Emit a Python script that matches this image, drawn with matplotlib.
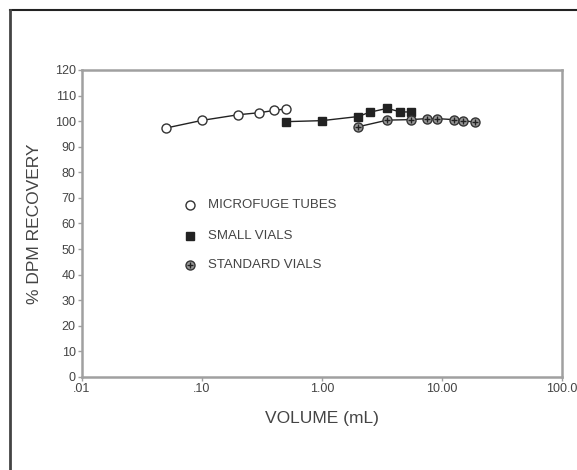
import matplotlib.pyplot as plt
from matplotlib.lines import Line2D

# volumes (mL) and % DPM recovery for each vial type
micro_vol = [0.05, 0.1, 0.2, 0.3, 0.4, 0.5]
micro_rec = [97.3, 100.3, 102.5, 103.3, 104.2, 104.8]

small_vol = [0.5, 1.0, 2.0, 2.5, 3.5, 4.5, 5.5]
small_rec = [99.8, 100.2, 101.8, 103.5, 105.0, 103.6, 103.6]

std_vol = [2.0, 3.5, 5.5, 7.5, 9.0, 12.5, 15.0, 19.0]
std_rec = [97.8, 100.4, 100.6, 101.0, 101.0, 100.6, 100.2, 99.6]

x_ticks = [0.01, 0.1, 1.0, 10.0, 100.0]
x_labels = ['.01', '.10', '1.00', '10.00', '100.0']
y_ticks = list(range(0, 121, 10))

key_labels = ['MICROFUGE TUBES', 'SMALL VIALS', 'STANDARD VIALS']

plt.rcParams['font.family'] = ['Liberation Sans', 'DejaVu Sans']

fig = plt.figure(figsize=(5.77, 4.70), dpi=100)
ax = fig.add_axes([0.1421, 0.1979, 0.8319, 0.6532])

line_col = '#222222'
micro_style = dict(marker='o', ms=6.5, mfc='white', mec='#333333', mew=1.0)
small_style = dict(marker='s', ms=5.5, mfc='#222222', mec='#222222')
std_style = dict(marker='o', ms=6.5, mfc='#9a9a9a', mec='#333333', mew=1.0)
cross_style = dict(marker='+', ms=5, mec='#222222', mew=1.0)

ax.plot(micro_vol, micro_rec, color=line_col, lw=1.0, zorder=3, **micro_style)
ax.plot(small_vol, small_rec, color=line_col, lw=1.0, zorder=3, **small_style)
ax.plot(std_vol, std_rec, color=line_col, lw=1.0, zorder=4, **std_style)
ax.plot(std_vol, std_rec, ls='none', zorder=5, **cross_style)

ax.set_xscale('log')
ax.set_xlim(0.01, 100)
ax.set_ylim(0, 120)
ax.set_xticks(x_ticks)
ax.set_xticklabels(x_labels)
ax.minorticks_off()
ax.set_yticks(y_ticks)

for side in ['left', 'bottom', 'top', 'right']:
    ax.spines[side].set_color('#a0a0a0')
    ax.spines[side].set_linewidth(1.8)
ax.tick_params(axis='both', colors='#a0a0a0', length=3, width=1,
               labelsize=9, labelcolor='#444444', pad=1.5)

ax.set_xlabel('VOLUME (mL)', fontsize=12.5, color='#444444', labelpad=11)
ax.set_ylabel('% DPM RECOVERY', fontsize=12.5, color='#444444', labelpad=9)

# key drawn by hand inside the plot area
key_y = [0.560, 0.459, 0.365]
key_styles = [[micro_style], [small_style], [std_style, cross_style]]
for y, styles, label in zip(key_y, key_styles, key_labels):
    for st in styles:
        ax.plot([0.225], [y], ls='none', transform=ax.transAxes,
                clip_on=False, **st)
    ax.text(0.2625, y, label, transform=ax.transAxes, fontsize=9.5,
            color='#444444', va='center', ha='left')

# partial page frame along the top and left edges
fig.add_artist(Line2D([10 / 577, 1.0], [1 - 10 / 470, 1 - 10 / 470],
                      color='#222222', lw=1.5, transform=fig.transFigure))
fig.add_artist(Line2D([10 / 577, 10 / 577], [0.0, 1 - 10 / 470],
                      color='#444444', lw=2.0, transform=fig.transFigure))

fig.savefig('out.png', dpi=100)
